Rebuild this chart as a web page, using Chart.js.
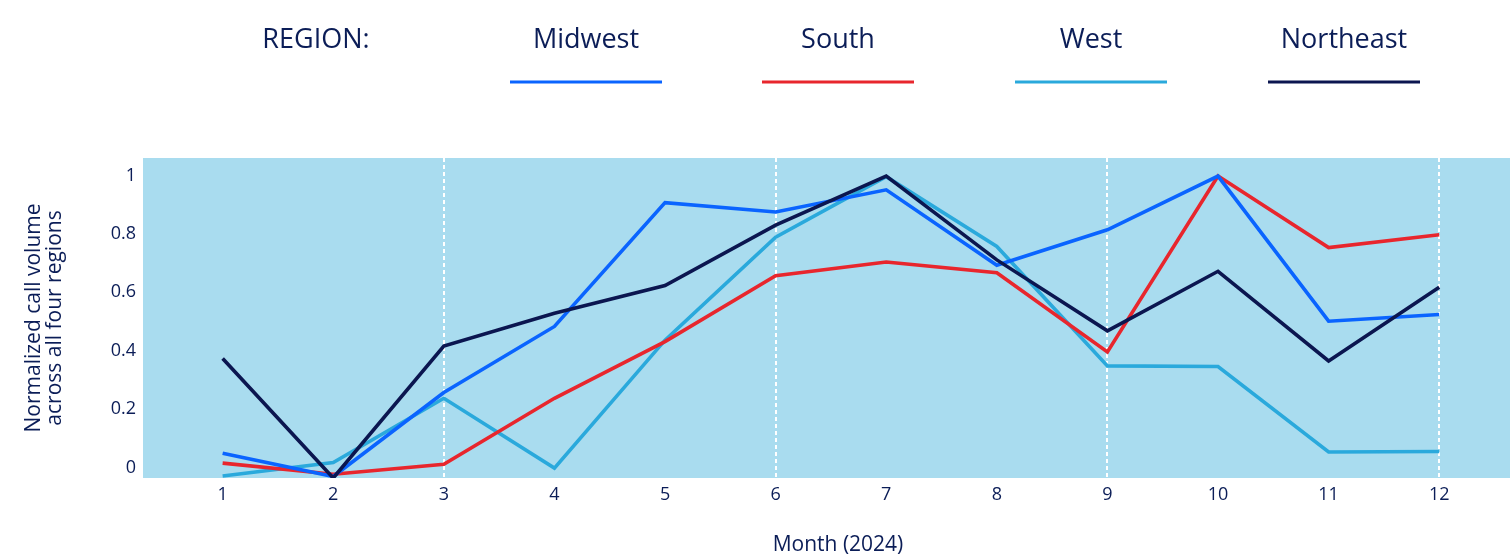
<!DOCTYPE html>
<html>
<head>
<meta charset="utf-8">
<script src="https://cdn.jsdelivr.net/npm/chart.js@4/dist/chart.umd.min.js"></script>
<style>
  html, body { margin: 0; padding: 0; background: #fff; }
  #wrap { width: 1510px; height: 556px; position: relative; }
</style>
</head>
<body>
<div id="wrap"><canvas id="callChart"></canvas></div>
<script>
const months = [1, 2, 3, 4, 5, 6, 7, 8, 9, 10, 11, 12];
const midwest = [0.049, -0.031, 0.257, 0.483, 0.907, 0.875, 0.951, 0.693, 0.814, 0.998, 0.501, 0.524];
const south = [0.015, -0.023, 0.011, 0.237, 0.431, 0.657, 0.704, 0.667, 0.396, 0.998, 0.753, 0.797];
const west = [-0.029, 0.017, 0.237, -0.002, 0.436, 0.789, 0.996, 0.757, 0.348, 0.346, 0.053, 0.055];
const northeast = [0.373, -0.036, 0.416, 0.528, 0.623, 0.830, 0.998, 0.711, 0.468, 0.672, 0.365, 0.617];
const yTicks = [0, 0.2, 0.4, 0.6, 0.8, 1];
const dashedMonths = [3, 6, 9, 12];

const ink = '#0b1d57';
const font = 'Open Sans';

const toPoints = (vals) => vals.map((v, i) => ({ x: months[i], y: v }));

const plotBg = {
  id: 'plotBg',
  beforeDraw(chart) {
    const { ctx, chartArea: a } = chart;
    ctx.save();
    ctx.fillStyle = '#a9dcef';
    ctx.fillRect(a.left, a.top, a.right - a.left, a.bottom - a.top);
    ctx.restore();
  },
};

// legend: title above a coloured line, one column per region; also the x title
const topLegend = {
  id: 'topLegend',
  afterDraw(chart) {
    const { ctx } = chart;
    const centers = [586, 838, 1091, 1344];
    ctx.save();
    ctx.font = `27px "${font}"`;
    ctx.fillStyle = ink;
    ctx.textAlign = 'center';
    ctx.textBaseline = 'middle';
    ctx.fillText('REGION:', 316, 40);
    const order = ['Midwest', 'South', 'West', 'Northeast'];
    order.forEach((name, i) => {
      const ds = chart.data.datasets.find((d) => d.label === name);
      ctx.fillStyle = ink;
      ctx.fillText(name, centers[i], 40);
      ctx.strokeStyle = ds.borderColor;
      ctx.lineWidth = 3;
      ctx.beginPath();
      ctx.moveTo(centers[i] - 76, 82);
      ctx.lineTo(centers[i] + 76, 82);
      ctx.stroke();
    });
    ctx.font = `21px "${font}"`;
    ctx.fillStyle = ink;
    ctx.fillText('Month (2024)', 838, 545);
    ctx.restore();
  },
};

const line = (label, vals, color, order) => ({
  label, data: toPoints(vals), borderColor: color, backgroundColor: color,
  borderWidth: 3.6, pointRadius: 0, tension: 0, order,
});

new Chart(document.getElementById('callChart'), {
  type: 'line',
  data: {
    datasets: [
      line('Midwest', midwest, '#0a64ff', 1),
      line('South', south, '#e8262d', 2),
      line('West', west, '#2aa9dc', 3),
      line('Northeast', northeast, '#0b1650', 0),
    ],
  },
  options: {
    responsive: true, maintainAspectRatio: false, animation: false,
    layout: { padding: { top: 158, right: 0, left: 0, bottom: 0 } },
    plugins: { legend: { display: false }, tooltip: { enabled: false } },
    scales: {
      x: {
        type: 'linear', min: 0.28, max: 12.64,
        afterBuildTicks: (s) => { s.ticks = months.map((v) => ({ value: v })); },
        afterFit: (s) => { s.height = 78; },
        border: { display: false, dash: [4, 3] },
        grid: {
          drawTicks: false, tickLength: 0, lineWidth: 2,
          color: (c) => (dashedMonths.includes(c.tick && c.tick.value) ? '#ffffff' : 'rgba(0,0,0,0)'),
        },
        ticks: { padding: 6, color: ink, font: { family: font, size: 18 }, maxRotation: 0 },
        title: { display: false },
      },
      y: {
        min: -0.036, max: 1.06,
        afterBuildTicks: (s) => { s.ticks = yTicks.map((v) => ({ value: v })); },
        afterFit: (s) => { s.width = 143; },
        border: { display: false },
        grid: { display: false, drawTicks: false, tickLength: 0 },
        ticks: { padding: 7, color: ink, font: { family: font, size: 18 }, callback: (v) => String(v) },
        title: {
          display: true, text: ['Normalized call volume', 'across all four regions'],
          color: ink, font: { family: font, size: 21, lineHeight: 1.0 }, padding: { top: 24, bottom: 4 },
        },
      },
    },
  },
  plugins: [plotBg, topLegend],
});
</script>
</body>
</html>
